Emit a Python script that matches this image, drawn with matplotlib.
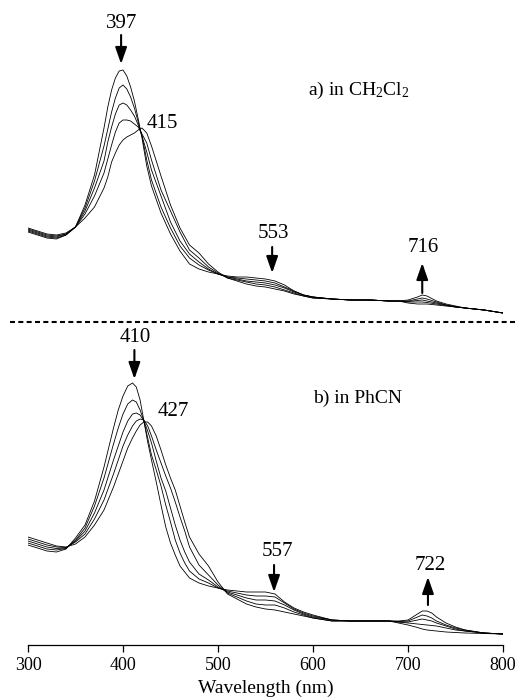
import matplotlib
matplotlib.use("Agg")
import matplotlib.pyplot as plt
from matplotlib.lines import Line2D

plt.rcParams['font.family'] = ['Liberation Serif', 'DejaVu Serif']
plt.rcParams['mathtext.fontset'] = 'custom'
plt.rcParams['mathtext.rm'] = 'Liberation Serif'
plt.rcParams['mathtext.default'] = 'rm'

# ---- a) in CH2Cl2 : absorbance (arb. units), 5 spectra of the titration ----
wl_a = [300, 310, 320, 330, 340, 350, 360, 370, 380, 384, 388, 392, 396, 400, 404, 408,
        412, 416, 420, 425, 430, 440, 450, 460, 470, 480, 490, 500, 510, 520, 530, 540,
        550, 560, 570, 580, 590, 600, 620, 640, 660, 680, 690, 700, 710, 715, 720, 730,
        740, 750, 760, 780, 800]
a1 = [88, 85, 82, 81, 85, 93, 115, 145, 192, 213, 230, 242, 249, 250, 244, 233,
      219, 201, 182, 154, 134, 107, 86, 69, 56, 51, 48, 46, 44, 43, 43, 42,
      41, 39, 35, 29, 25, 23, 21, 20, 20, 19, 19, 17, 16, 16, 16, 15,
      14, 13, 12, 10, 7]
a2 = [89, 86, 83, 82, 85, 93, 112, 139, 174, 191, 208, 222, 232, 235, 231, 223,
      212, 198, 184, 160, 140, 113, 92, 74, 62, 55, 50, 46, 43, 42, 41, 40,
      39, 37, 33, 29, 25, 23, 21, 20, 20, 19, 19, 18, 18, 18, 17.5, 16,
      14.5, 13, 12, 10, 7]
a3 = [90, 87, 84, 83, 86, 93, 109, 132, 159, 178, 193, 206, 215, 217, 215, 210,
      204, 195, 184, 168, 150, 124, 98, 79, 66, 58, 51, 46, 43, 41, 39, 38,
      37, 35, 32, 28, 25, 23, 21, 20, 20, 19, 19, 18.5, 19.5, 20, 19, 17,
      15, 13, 12, 10, 7]
a4 = [91, 88, 85, 84, 86, 93, 106, 124, 147, 161, 175, 188, 197, 200, 200, 199,
      196, 193, 186, 177, 160, 130, 109, 88, 70, 62, 53, 47, 42, 40, 38, 36,
      35, 33, 30, 27, 24, 22, 21, 20, 20, 19, 19, 19, 21, 22, 21, 18,
      15, 13.5, 12, 10, 7]
a5 = [92, 89, 86, 85, 87, 93, 102, 113, 132, 143, 158, 167, 175, 180, 183, 185,
      187, 190, 192, 187, 174, 144, 115, 92, 75, 67, 56, 48, 42, 39, 36, 34,
      33, 31, 29, 26, 24, 22, 21, 20, 20, 19, 19, 20, 23, 25, 24, 19,
      16, 14, 12, 10, 7]

# ---- b) in PhCN ----
wl_b = [300, 310, 320, 330, 340, 350, 360, 370, 380, 390, 395, 400, 405, 410, 414, 418,
        422, 426, 430, 435, 440, 445, 450, 455, 460, 465, 470, 480, 490, 500, 510, 520,
        530, 540, 550, 560, 570, 580, 590, 600, 620, 640, 660, 680, 690, 700, 710, 715,
        720, 725, 730, 740, 750, 760, 780, 800]
b1 = [100, 97, 94, 93, 96, 107, 120, 144, 178, 217, 235, 249, 259, 262, 258, 245,
      224, 203, 185, 163, 140, 118, 102, 90, 79, 73, 67, 62, 59, 57, 55, 54,
      53, 53, 53, 51, 43, 37, 33, 30, 25, 24, 24, 24, 22, 20, 17.5, 16,
      15, 14.5, 14, 13, 12.5, 12, 11.5, 11]
b2 = [102, 99, 96, 95, 96.5, 105, 117, 139, 167, 201, 217, 231, 241, 245, 243, 235,
      224, 207, 190, 175, 159, 140, 123, 105, 92, 82, 74, 66, 62, 57, 54, 52,
      50, 49, 49, 48, 42, 36, 32, 29, 25, 24, 24, 24, 23, 22, 21, 20.5,
      20, 19.5, 19, 17, 15, 14, 12, 11]
b3 = [104, 101, 98, 96.5, 97, 104, 114, 132, 155, 185, 199, 213, 224, 231, 232, 230,
      224, 214, 202, 184, 167, 154, 137, 120, 105, 93, 83, 71, 65, 58, 53, 50,
      47, 45, 45, 44, 40, 35, 31, 28, 25, 24, 24, 24, 23, 23, 25, 26,
      25, 24, 22, 19, 16, 14, 12, 11]
b4 = [106, 103, 100, 98, 97.5, 103, 111, 126, 145, 171, 185, 199, 210, 219, 224, 226,
      225, 219, 209, 195, 182, 169, 157, 143, 128, 114, 98, 80, 70, 60, 52, 48,
      44, 41, 40, 40, 37, 33, 30, 27, 24, 24, 24, 24, 23.5, 24, 28, 30,
      29, 27, 24, 20, 17, 15, 12, 11]
b5 = [108, 105, 102, 99, 98, 101, 108, 120, 135, 158, 171, 184, 197, 207, 214, 220,
      223, 223, 219, 209, 195, 180, 167, 155, 139, 123, 108, 91, 79, 63, 51, 46,
      41, 38, 36, 35, 33, 31, 29, 27, 24, 24, 24, 24, 24, 25, 31, 34,
      34, 32, 28, 22, 18, 15, 12, 11]

xticks = [300, 400, 500, 600, 700, 800]

fig = plt.figure(figsize=(5.2, 6.97), dpi=100)
ax_a = fig.add_axes([28 / 520, 1 - 320 / 697, 475 / 520, 320 / 697])
ax_b = fig.add_axes([28 / 520, 52 / 697, 475 / 520, 320 / 697])

for y in [a1, a2, a3, a4, a5]:
    ax_a.plot(wl_a, y, color='k', lw=0.6)
for y in [b1, b2, b3, b4, b5]:
    ax_b.plot(wl_b, y, color='k', lw=0.6)

for ax in (ax_a, ax_b):
    ax.set_xlim(300, 800)
    ax.set_ylim(0, 320)

ax_a.axis('off')
for s in ['top', 'left', 'right']:
    ax_b.spines[s].set_visible(False)
ax_b.spines['bottom'].set_linewidth(0.9)
ax_b.set_yticks([])
ax_b.set_xticks(xticks)
ax_b.tick_params(axis='x', labelsize=13, length=5, width=0.9)
ax_b.set_xlabel('Wavelength (nm)', fontsize=14, labelpad=4)

arrow = dict(arrowstyle='-|>,head_length=1.0,head_width=0.35', lw=1.5,
             color='k', shrinkA=0, shrinkB=0, mutation_scale=10)


def mark(ax, label, tx, ty, ax_x, tail, head):
    ax.text(tx, ty, label, fontsize=15, ha='center', va='center')
    ax.annotate('', xy=(ax_x, head), xytext=(ax_x, tail), arrowprops=arrow)


mark(ax_a, '397', 399, 297, 398, 285, 256)
mark(ax_a, '553', 558, 87, 557, 73, 47)
mark(ax_a, '716', 716, 73, 715, 27, 57)
ax_a.text(441, 197, '415', fontsize=15, ha='center', va='center')
ax_a.text(595, 230, 'a) in CH$_2$Cl$_2$', fontsize=14, ha='left', va='center')

mark(ax_b, '410', 413, 308, 412, 295, 266)
mark(ax_b, '557', 563, 93, 559, 80, 53)
mark(ax_b, '722', 723, 79, 721, 40, 68)
ax_b.text(453, 233, '427', fontsize=15, ha='center', va='center')
ax_b.text(600, 247, 'b) in PhCN', fontsize=14, ha='left', va='center')

# dashed separator between the two panels
fig.add_artist(Line2D([10 / 520, 517 / 520], [1 - 322 / 697] * 2,
                      transform=fig.transFigure, color='k', lw=1.5,
                      linestyle=(0, (2.4, 1.6))))

fig.savefig('out.png', dpi=100)
